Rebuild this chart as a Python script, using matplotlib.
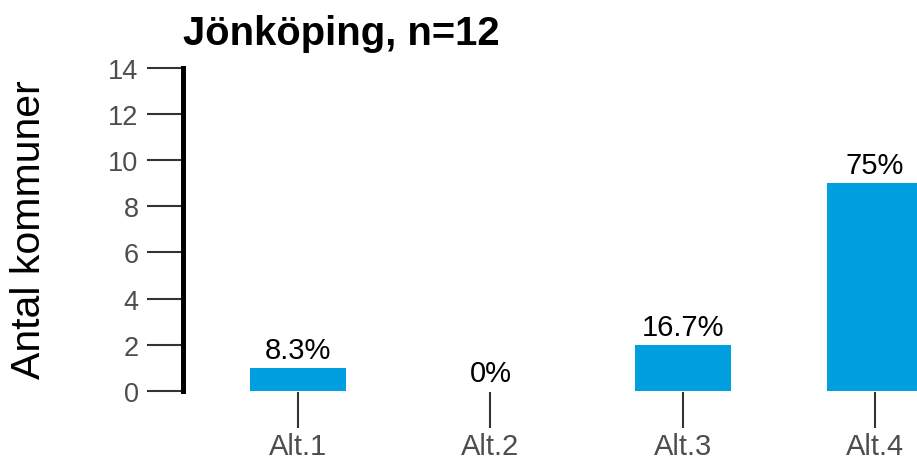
import matplotlib.pyplot as plt

plt.rcParams['font.family'] = ['Liberation Sans', 'DejaVu Sans']

categories = ['Alt.1', 'Alt.2', 'Alt.3', 'Alt.4']
counts = [1, 0, 2, 9]
pct_labels = ['8.3%', '0%', '16.7%', '75%']
yticks = [0, 2, 4, 6, 8, 10, 12, 14]

W, H = 917, 464
fig = plt.figure(figsize=(W / 100, H / 100), dpi=100)

# axes deliberately runs past the right edge (last bar is cut off)
left, right = 183, 990
bottom, top = 393, 62
ax = fig.add_axes([left / W, 1 - bottom / H, (right - left) / W, (bottom - top) / H])

x = list(range(len(categories)))
ax.bar(x, counts, width=0.5, color='#009FE0')
for xi, c, lab in zip(x, counts, pct_labels):
    ax.annotate(lab, (xi, c), xytext=(0, 3), textcoords='offset points',
                ha='center', va='bottom', fontsize=21, color='black')

ax.set_xlim(-0.6, 3.6)
ax.set_ylim(-0.05, 14.3)

for s in ['top', 'right', 'bottom']:
    ax.spines[s].set_visible(False)
ax.spines['left'].set_linewidth(3.6)
ax.spines['left'].set_color('black')
ax.spines['left'].set_bounds(0, 14)

ax.set_yticks(yticks)
ax.set_xticks(x)
ax.set_xticklabels(categories)
ax.tick_params(axis='y', length=26, width=1.5, color='#333333', pad=6,
               labelsize=19.5, labelcolor='#4d4d4d')
ax.tick_params(axis='x', length=26, width=1.5, color='#333333', pad=3,
               labelsize=21, labelcolor='#4d4d4d')

fig.text(183 / W, 1 - 45 / H, 'Jönköping, n=12', fontsize=28.8, fontweight='bold',
         ha='left', va='baseline')
fig.text(29 / W, 1 - 230 / H, 'Antal kommuner', fontsize=29.5, rotation=90,
         ha='center', va='center')

fig.savefig('out.png', dpi=100)
